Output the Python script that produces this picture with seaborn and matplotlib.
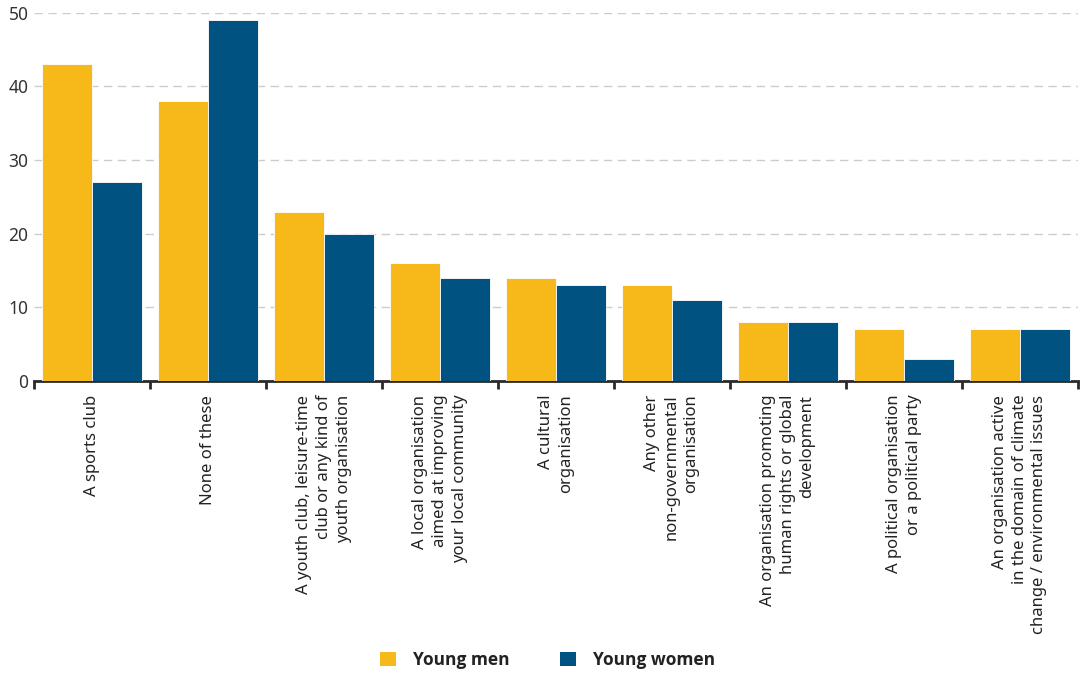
import matplotlib
matplotlib.use("Agg")
import matplotlib.pyplot as plt
import seaborn as sns
import pandas as pd
from matplotlib.patches import Patch
from matplotlib.ticker import FixedLocator

categories = [
    "A sports club",
    "None of these",
    "A youth club, leisure-time\nclub or any kind of\nyouth organisation",
    "A local organisation\naimed at improving\nyour local community",
    "A cultural\norganisation",
    "Any other\nnon-governmental\norganisation",
    "An organisation promoting\nhuman rights or global\ndevelopment",
    "A political organisation\nor a political party",
    "An organisation active\nin the domain of climate\nchange / environmental issues",
]
young_men = [43, 38, 23, 16, 14, 13, 8, 7, 7]
young_women = [27, 49, 20, 14, 13, 11, 8, 3, 7]
series = ["Young men", "Young women"]
colors = ["#F7B919", "#005380"]
yticks = [0, 10, 20, 30, 40, 50]

df = pd.DataFrame({
    "cat": categories * 2,
    "value": young_men + young_women,
    "group": [series[0]] * len(categories) + [series[1]] * len(categories),
})

sns.set_theme(style="white")
plt.rcParams["font.family"] = ["Noto Sans", "DejaVu Sans"]

fig = plt.figure(figsize=(10.8, 6.74), dpi=100)
ax = fig.add_axes([0.0315, 0.435, 0.9665, 0.546])

sns.barplot(data=df, x="cat", y="value", hue="group", hue_order=series,
            palette=colors, saturation=1, width=0.86, gap=0, ax=ax, legend=False,
            edgecolor="white", linewidth=0.6, errorbar=None, zorder=3)

ax.set_xlim(-0.5, len(categories) - 0.5)
ax.set_ylim(0, 50)
ax.set_yticks(yticks)
ax.set_yticklabels([str(v) for v in yticks], fontsize=12.5, color="#333333")
ax.tick_params(axis="y", length=0, pad=4)
ax.yaxis.grid(True, color="#cccccc", linestyle=(0, (6, 4)), linewidth=1, zorder=0)
ax.set_axisbelow(True)

ax.set_xticks(range(len(categories)))
ax.set_xticklabels(categories, rotation=90, fontsize=12, color="#222222",
                   ha="center", va="top", multialignment="right",
                   linespacing=1.3)
ax.tick_params(axis="x", which="major", length=0, pad=10)
ax.xaxis.set_minor_locator(FixedLocator([i - 0.5 for i in range(len(categories) + 1)]))
ax.tick_params(axis="x", which="minor", length=6, width=2, color="#2a2a2a",
               direction="out", bottom=True)

for s in ["top", "right", "left"]:
    ax.spines[s].set_visible(False)
ax.spines["bottom"].set_color("#2a2a2a")
ax.spines["bottom"].set_linewidth(2)
ax.set_xlabel("")
ax.set_ylabel("")

handles = [Patch(facecolor=c, edgecolor="none") for c in colors]
fig.legend(handles, series, loc="center", bbox_to_anchor=(0.507, 0.021),
           ncol=2, frameon=False,
           prop={"family": ["Open Sans", "DejaVu Sans"], "weight": "bold", "size": 12.5},
           labelcolor="#222222",
           handlelength=0.9, handleheight=0.9, handletextpad=1.0,
           columnspacing=2.9)

fig.savefig("out.png", dpi=100)
